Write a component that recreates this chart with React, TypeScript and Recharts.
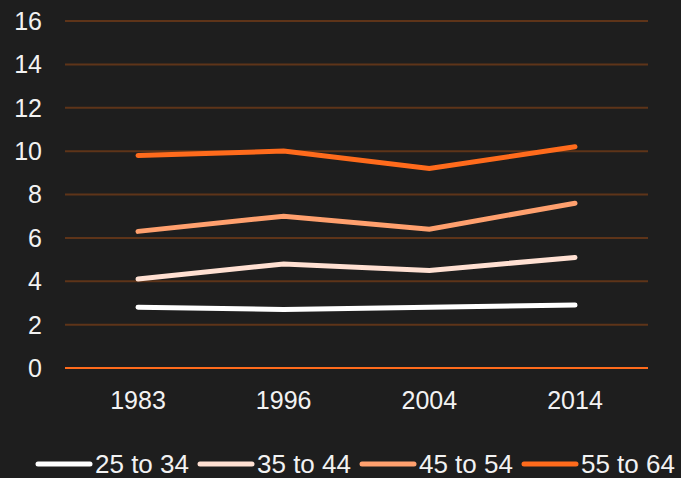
import React from "react";
import { LineChart, Line, XAxis, YAxis, CartesianGrid, Legend } from "recharts";

const years = ["1983", "1996", "2004", "2014"];
const age25to34 = [2.8, 2.7, 2.8, 2.9];
const age35to44 = [4.1, 4.8, 4.5, 5.1];
const age45to54 = [6.3, 7.0, 6.4, 7.6];
const age55to64 = [9.8, 10.0, 9.2, 10.2];
const yTicks = [0, 2, 4, 6, 8, 10, 12, 14, 16];

const seriesNames = ["25 to 34", "35 to 44", "45 to 54", "55 to 64"];
const seriesColors = ["#ffffff", "#ffe0d2", "#ffa06e", "#ff6b1c"];
const seriesValues = [age25to34, age35to44, age45to54, age55to64];

const data = years.map((y, i) => {
  const row: Record<string, string | number> = { year: y };
  seriesNames.forEach((n, k) => {
    row[n] = seriesValues[k][i];
  });
  return row;
});

const FONT = "'Liberation Sans', Arial, sans-serif";

const LegendContent = () => (
  <div
    style={{
      height: 28,
      display: "flex",
      alignItems: "center",
      paddingLeft: 35,
      fontFamily: FONT,
      fontSize: 26,
      lineHeight: "28px",
      color: "#f2f2f2",
      whiteSpace: "nowrap",
    }}
  >
    {seriesNames.map((n, i) => (
      <div key={n} style={{ display: "flex", alignItems: "center", marginRight: 8 }}>
        <svg width={58} height={10} style={{ marginRight: 2 }}>
          <line x1={3} y1={5} x2={55} y2={5} stroke={seriesColors[i]} strokeWidth={5} strokeLinecap="round" />
        </svg>
        <span>{n}</span>
      </div>
    ))}
  </div>
);

export default function App() {
  return (
    <div style={{ width: 681, height: 478, background: "#1e1e1e", position: "relative" }}>
      <style>{`body{margin:0;background:#1e1e1e}`}</style>
      <LineChart
        width={681}
        height={478}
        data={data}
        margin={{ top: 21, right: 33, bottom: 0, left: 0 }}
      >
        <CartesianGrid vertical={false} stroke="#5e3419" strokeWidth={2} />
        <XAxis
          dataKey="year"
          height={82}
          padding={{ left: 73, right: 73 }}
          tickLine={false}
          tickSize={0}
          tickMargin={23}
          axisLine={{ stroke: "#ff6b1c", strokeWidth: 2 }}
          tick={{ fill: "#f2f2f2", fontSize: 25, fontFamily: FONT }}
        />
        <YAxis
          width={65}
          domain={[0, 16]}
          ticks={yTicks}
          interval={0}
          axisLine={false}
          tickLine={false}
          tickSize={0}
          tickMargin={23}
          tick={{ fill: "#f2f2f2", fontSize: 25, fontFamily: FONT }}
        />
        <Legend verticalAlign="bottom" align="left" height={28} content={<LegendContent />} />
        {seriesNames.map((n, i) => (
          <Line
            key={n}
            type="linear"
            dataKey={n}
            stroke={seriesColors[i]}
            strokeWidth={5}
            strokeLinecap="round"
            dot={false}
            activeDot={false}
            isAnimationActive={false}
          />
        ))}
      </LineChart>
    </div>
  );
}
